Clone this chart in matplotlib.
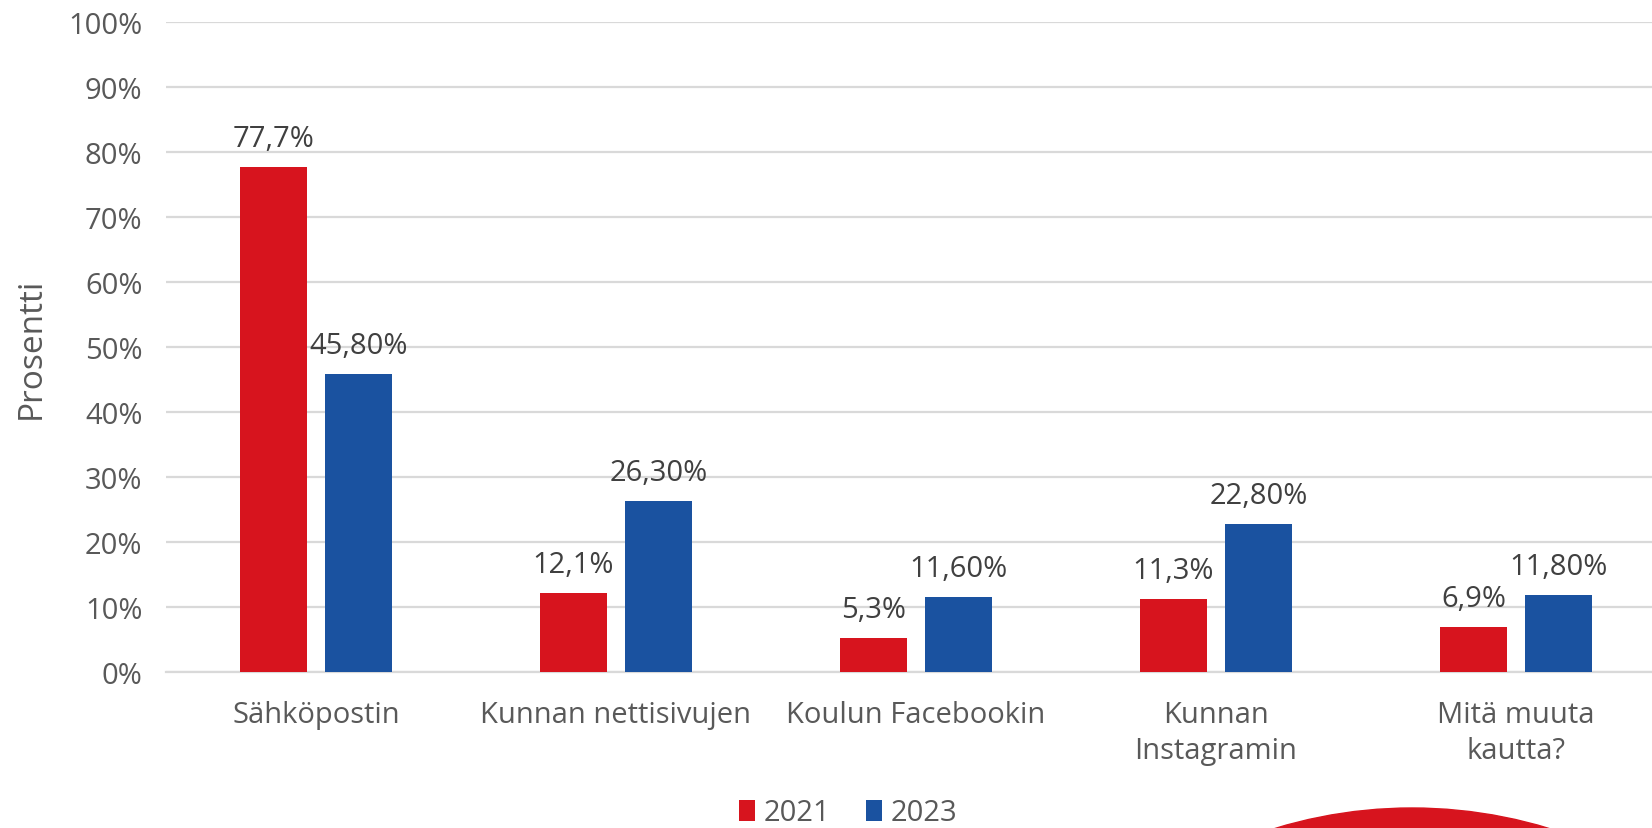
import numpy as np
import matplotlib
matplotlib.use("Agg")
import matplotlib.pyplot as plt
from matplotlib.patches import Ellipse

plt.rcParams['font.family'] = ['Open Sans', 'DejaVu Sans']

categories = ["Sähköpostin", "Kunnan nettisivujen", "Koulun Facebookin",
              "Kunnan\nInstagramin", "Mitä muuta\nkautta?"]
vals_2021 = [77.7, 12.1, 5.3, 11.3, 6.9]
vals_2023 = [45.8, 26.3, 11.6, 22.8, 11.8]
labels_2021 = ["77,7%", "12,1%", "5,3%", "11,3%", "6,9%"]
labels_2023 = ["45,80%", "26,30%", "11,60%", "22,80%", "11,80%"]
series = ["2021", "2023"]

red = "#D7141E"
blue = "#1A52A0"
grey = "#595959"

W, H = 1652, 829
fig = plt.figure(figsize=(W / 100, H / 100), dpi=100)
# axis runs off the right edge like in the original
ax = fig.add_axes([166 / W, 1 - 673 / H, 1500 / W, 650 / H])

x = np.arange(len(categories))
bw = 0.225
off = 0.142
b1 = ax.bar(x - off, vals_2021, bw, color=red, label=series[0], zorder=3)
b2 = ax.bar(x + off, vals_2023, bw, color=blue, label=series[1], zorder=3)

for bars, labs in ((b1, labels_2021), (b2, labels_2023)):
    for b, t in zip(bars, labs):
        ax.annotate(t, (b.get_x() + b.get_width() / 2, b.get_height()),
                    xytext=(0, 10), textcoords="offset points",
                    ha="center", va="bottom", fontsize=21, color="#404040")

ax.set_xlim(-0.5, 4.5)
ax.set_ylim(0, 100)
ax.set_yticks(np.arange(0, 101, 10))
ax.set_yticklabels([f"{v}%" for v in range(0, 101, 10)])
ax.set_xticks(x)
ax.set_xticklabels(categories, linespacing=1.35)
ax.tick_params(axis="y", length=0, pad=17, labelsize=21, labelcolor=grey)
ax.tick_params(axis="x", length=0, pad=20, labelsize=21, labelcolor=grey)
ax.grid(axis="y", color="#D9D9D9", lw=1.6, zorder=0)
for s in ("top", "right", "left"):
    ax.spines[s].set_visible(False)
ax.spines["bottom"].set_color("#D9D9D9")
ax.spines["bottom"].set_linewidth(1.6)
ax.set_ylabel("Prosentti", fontsize=24, color=grey)
ax.yaxis.set_label_coords(-(166 - 48) / 1500, 0.5)

leg = fig.legend(handles=[b1, b2], loc="center", bbox_to_anchor=(848 / W, 1 - 814 / H),
                 ncol=2, frameon=False, fontsize=21, handlelength=0.55, handleheight=0.7,
                 handletextpad=0.3, columnspacing=1.2)
for t in leg.get_texts():
    t.set_color(grey)

# red decorative shape at the bottom edge
R = 470
fig.patches.append(Ellipse((1412 / W, (H - 809 - R) / H), 2 * R / W, 2 * R / H,
                           transform=fig.transFigure, color=red, zorder=0))

fig.savefig("out.png", dpi=100)
